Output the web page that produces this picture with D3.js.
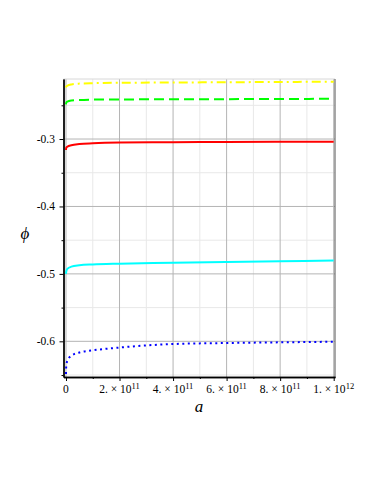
<!DOCTYPE html>
<html>
<head>
<meta charset="utf-8">
<script src="https://cdn.jsdelivr.net/npm/d3@7"></script>
<style>
  body { margin: 0; background: #fff; }
  text { font-family: "Liberation Serif", "DejaVu Serif", serif; }
</style>
</head>
<body>
<script>
// sample points along a (shared by every curve)
const aVals = [0, 1e9, 5e9, 2e10, 5e10, 1e11, 2e11, 4e11, 6e11, 8e11, 1e12];

// phi values, top curve to bottom curve
const yellowPhi = [-0.2236, -0.2222, -0.2210, -0.2190, -0.2178, -0.2172, -0.2166, -0.2162, -0.2158, -0.2154, -0.2150];
const greenPhi  = [-0.2485, -0.2460, -0.2445, -0.2430, -0.2422, -0.2416, -0.2413, -0.2411, -0.2409, -0.2406, -0.2404];
const redPhi    = [-0.3163, -0.3130, -0.3115, -0.3093, -0.3075, -0.3063, -0.3052, -0.3047, -0.3045, -0.3042, -0.3040];
const cyanPhi   = [-0.5000, -0.4965, -0.4926, -0.4893, -0.4873, -0.4860, -0.4848, -0.4835, -0.4822, -0.4812, -0.4803];
const bluePhi   = [-0.6485, -0.6360, -0.6290, -0.6214, -0.6166, -0.6134, -0.6092, -0.6040, -0.6025, -0.6015, -0.6006];

const xMajor = [0, 2e11, 4e11, 6e11, 8e11, 1e12];
const xMajorLabels = ["0", "2.", "4.", "6.", "8.", "1."];
const xMinor = [1e11, 3e11, 5e11, 7e11, 9e11];
const yMajor = [-0.3, -0.4, -0.5, -0.6];
const yMajorLabels = ["-0.3", "-0.4", "-0.5", "-0.6"];
const yMinor = [-0.25, -0.35, -0.45, -0.55, -0.65];

init();

function init() {
  let width = 382, height = 494;
  let svg = d3.select("body").append("svg")
              .attr("width", width)
              .attr("height", height);

  let x = d3.scaleLinear().domain([-0.93e10, 1.0049e12]).range([63.5, 335]);
  let y = d3.scaleLinear().domain([-0.2110, -0.6529]).range([79, 377]);

  let left = x.range()[0], right = x.range()[1],
      top = y.range()[0], bottom = y.range()[1];

  // grid
  let grid = svg.append("g");
  grid.selectAll(".vmin").data(xMinor).enter().append("line")
      .attr("x1", d => x(d)).attr("x2", d => x(d))
      .attr("y1", top).attr("y2", bottom)
      .attr("stroke", "#e8e8e8");
  grid.selectAll(".hmin").data(yMinor).enter().append("line")
      .attr("x1", left).attr("x2", right)
      .attr("y1", d => y(d)).attr("y2", d => y(d))
      .attr("stroke", "#e8e8e8");
  grid.selectAll(".vmaj").data(xMajor).enter().append("line")
      .attr("x1", d => x(d)).attr("x2", d => x(d))
      .attr("y1", top).attr("y2", bottom)
      .attr("stroke", "#b4b4b4");
  grid.selectAll(".hmaj").data(yMajor).enter().append("line")
      .attr("x1", left).attr("x2", right)
      .attr("y1", d => y(d)).attr("y2", d => y(d))
      .attr("stroke", "#b4b4b4");

  // frame (top and right)
  svg.append("line").attr("x1", left).attr("x2", right).attr("y1", top).attr("y2", top)
     .attr("stroke", "#d8d8d8");
  svg.append("line").attr("x1", right).attr("x2", right).attr("y1", top).attr("y2", bottom)
     .attr("stroke", "#555");

  // curves
  let line = d3.line()
               .x((d, i) => x(aVals[i]))
               .y(d => y(d))
               .curve(d3.curveMonotoneX);

  let series = [
    {v: yellowPhi, c: "#ffff00", dash: "9,4,2,4"},
    {v: greenPhi,  c: "#00ff00", dash: "10,5"},
    {v: redPhi,    c: "#ff0000", dash: null},
    {v: cyanPhi,   c: "#00ffff", dash: null},
    {v: bluePhi,   c: "#0000ff", dash: "2,3.5"}
  ];
  svg.selectAll(".curve").data(series).enter().append("path")
     .attr("d", d => line(d.v))
     .attr("fill", "none")
     .attr("stroke", d => d.c)
     .attr("stroke-width", 2)
     .attr("stroke-dasharray", d => d.dash);

  // axes
  let yAxis = d3.axisLeft(y).tickValues(yMajor).tickSize(4).tickSizeOuter(0).tickFormat("");
  let yAxisMinor = d3.axisLeft(y).tickValues(yMinor).tickSize(2).tickSizeOuter(0).tickFormat("");
  svg.append("g").attr("transform", `translate(${left},0)`).call(yAxis);
  svg.append("g").attr("transform", `translate(${left},0)`).call(yAxisMinor);
  let xAxis = d3.axisBottom(x).tickValues(xMajor).tickSize(4).tickSizeOuter(0).tickFormat("");
  let xAxisMinor = d3.axisBottom(x).tickValues(xMinor).tickSize(2).tickSizeOuter(0).tickFormat("");
  svg.append("g").attr("transform", `translate(0,${bottom})`).call(xAxis);
  svg.append("g").attr("transform", `translate(0,${bottom})`).call(xAxisMinor);
  svg.selectAll(".domain").attr("stroke", "#000").attr("stroke-width", 1.3);
  svg.selectAll(".tick line").attr("stroke", "#000");

  // y tick labels
  svg.selectAll(".ylab").data(yMajor).enter().append("text")
     .attr("x", 55).attr("y", d => y(d) + 4)
     .attr("text-anchor", "end")
     .attr("font-size", 11.5)
     .text((d, i) => yMajorLabels[i]);

  // x tick labels
  let xl = svg.selectAll(".xlab").data(xMajor).enter().append("text")
     .attr("x", d => x(d)).attr("y", 393)
     .attr("text-anchor", "middle")
     .attr("font-size", 11.5);
  xl.each(function(d, i) {
    let t = d3.select(this);
    if (d === 0) { t.text("0"); return; }
    t.append("tspan").text(xMajorLabels[i] + " \u00d7 10");
    t.append("tspan").attr("dy", -4).attr("font-size", 8.5).text(d === 1e12 ? "12" : "11");
  });

  // axis titles
  svg.append("text").attr("x", 199).attr("y", 412)
     .attr("text-anchor", "middle").attr("font-size", 17).attr("font-style", "italic")
     .text("a");
  svg.append("text").attr("x", 25).attr("y", 239)
     .attr("text-anchor", "middle").attr("font-size", 17).attr("font-style", "italic")
     .text("\u03d5");
}
</script>
</body>
</html>
